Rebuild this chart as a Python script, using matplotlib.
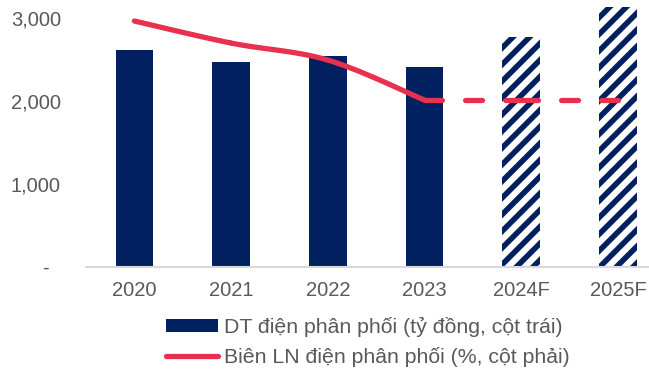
import matplotlib.pyplot as plt
import numpy as np
from matplotlib.patches import Patch
from matplotlib.lines import Line2D

plt.rcParams['font.family'] = ['Liberation Sans', 'DejaVu Sans']
plt.rcParams['hatch.linewidth'] = 4.0

# -------- Data --------
years = ['2020', '2021', '2022', '2023', '2024F', '2025F']
revenue = [2614, 2470, 2542, 2410, 2771, 3133]      # ty dong, left axis
margin = [7.37, 6.71, 6.20, 5.00, 5.00, 5.00]         # %, right axis (hidden)
forecast = [False, False, False, False, True, True]

navy = '#002060'
red = '#E8304F'
grey = '#595959'


def smooth(xs, ys, n=30):
    # Catmull-Rom curve through the points, like Excel's smoothed line
    px = np.concatenate([[xs[0]], xs, [xs[-1]]])
    py = np.concatenate([[ys[0]], ys, [ys[-1]]])
    out_x, out_y = [], []
    for i in range(1, len(px) - 2):
        t = np.linspace(0, 1, n)
        for p, out in ((px, out_x), (py, out_y)):
            p0, p1, p2, p3 = p[i - 1], p[i], p[i + 1], p[i + 2]
            out.extend(0.5 * (2 * p1 + (-p0 + p2) * t
                              + (2 * p0 - 5 * p1 + 4 * p2 - p3) * t ** 2
                              + (-p0 + 3 * p1 - 3 * p2 + p3) * t ** 3))
    return out_x, out_y


fig = plt.figure(figsize=(6.49, 3.74), dpi=100)
ax = fig.add_axes([86 / 649, 107 / 374, 563 / 649, 267 / 374])

x = np.arange(len(years))
for xi, val, fc in zip(x, revenue, forecast):
    if fc:
        ax.bar(xi, val, width=0.39, facecolor='white', edgecolor=navy,
               hatch='//', linewidth=0)
    else:
        ax.bar(xi, val, width=0.39, color=navy, linewidth=0)

ax.set_xlim(-0.5, 5.32)
ax.set_ylim(0, 3217)
ax.set_yticks([0, 1000, 2000, 3000])
ax.set_yticklabels(['-  ', '1,000', '2,000', '3,000'])
ax.set_xticks(x)
ax.set_xticklabels(years)
ax.tick_params(axis='both', length=0, labelsize=14.5, colors=grey)
ax.tick_params(axis='x', pad=10)
ax.tick_params(axis='y', pad=18)
for side in ['top', 'right', 'left']:
    ax.spines[side].set_visible(False)
ax.spines['bottom'].set_color('#D9D9D9')
ax.spines['bottom'].set_linewidth(1.5)

# margin line on a hidden right axis
ax2 = ax.twinx()
ax2.set_ylim(0, 8)
ax2.axis('off')
sx, sy = smooth(x[:4].astype(float), np.array(margin[:4]))
ax2.plot(sx, sy, color=red, lw=3.8, solid_capstyle='round')
for i in range(3, 5):
    ax2.plot(x[i:i + 2], margin[i:i + 2], color=red, lw=3.8,
             dashes=(3.2, 4.4), dash_capstyle='round')

# legend
handles = [Patch(facecolor=navy, edgecolor='none'),
           Line2D([0], [0], color=red, lw=3.8, solid_capstyle='round')]
labels = ['DT điện phân phối (tỷ đồng, cột trái)',
          'Biên LN điện phân phối (%, cột phải)']
fig.legend(handles, labels, loc='upper left', bbox_to_anchor=(166 / 649, 1 - 317 / 374),
           frameon=False, fontsize=15.3, labelcolor=grey, handlelength=2.45,
           handleheight=0.5, handletextpad=0.28, labelspacing=0.45,
           borderpad=0, borderaxespad=0)

fig.savefig('out.png', dpi=100)
